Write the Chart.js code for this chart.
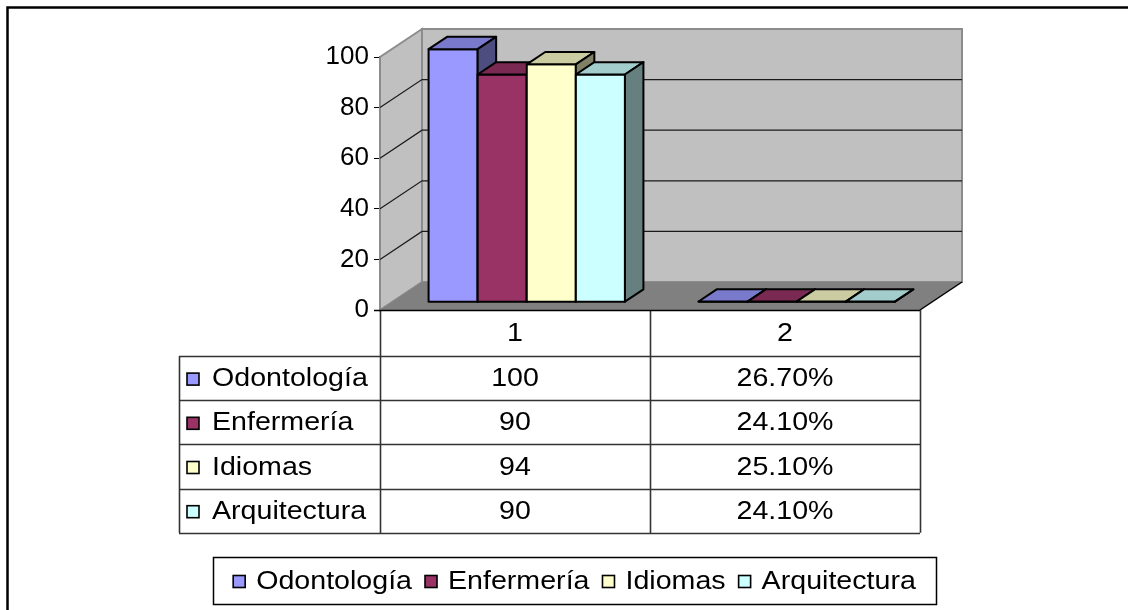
<!DOCTYPE html>
<html>
<head>
<meta charset="utf-8">
<script src="https://cdn.jsdelivr.net/npm/chart.js@4.4.1/dist/chart.umd.min.js"></script>
<style>
  body { margin: 0; background: #fff; }
  #wrap { width: 1128px; height: 610px; position: relative; }
</style>
</head>
<body>
<div id="wrap"><canvas id="chart"></canvas></div>
<script>
// data
const categories = ["1", "2"];
const seriesNames = ["Odontología", "Enfermería", "Idiomas", "Arquitectura"];
const odontologia = [100, 0.267];
const enfermeria = [90, 0.241];
const idiomas = [94, 0.251];
const arquitectura = [90, 0.241];
const tableRows = [
    ["100", "26.70%"],
    ["90", "24.10%"],
    ["94", "25.10%"],
    ["90", "24.10%"]
];
const yTicks = [0, 20, 40, 60, 80, 100];

// colours (front / top / side of each box)
const frontColors = ["#9999ff", "#993366", "#ffffcc", "#ccffff"];
const topColors = ["#7a7acc", "#7a2952", "#cccca3", "#a3cccc"];
const sideColors = ["#4d4d80", "#4d1a33", "#808066", "#668080"];

const FONT = "'Liberation Sans', Arial, sans-serif";
const depthX = 42, depthY = -28;   // wall depth
const barFront = 0.28, barDepth = 0.44;
const stretch = 1.1;               // the original text is a bit wide

function poly(ctx, pts, fill, stroke, lw) {
    ctx.beginPath();
    ctx.moveTo(pts[0][0], pts[0][1]);
    for (let i = 1; i < pts.length; i++) ctx.lineTo(pts[i][0], pts[i][1]);
    ctx.closePath();
    if (fill) { ctx.fillStyle = fill; ctx.fill(); }
    if (stroke) { ctx.strokeStyle = stroke; ctx.lineWidth = lw || 1; ctx.stroke(); }
}

function wideText(ctx, text, x, y, align) {
    const w = ctx.measureText(text).width * stretch;
    let left = x;
    if (align === "center") left = x - w / 2;
    ctx.save();
    ctx.textAlign = "left";
    ctx.translate(left, y);
    ctx.scale(stretch, 1);
    ctx.fillText(text, 0, 0);
    ctx.restore();
    return w;
}

function box(ctx, x, y, color) {
    ctx.fillStyle = color;
    ctx.fillRect(x, y, 12, 12);
    ctx.strokeStyle = "#000";
    ctx.lineWidth = 1.6;
    ctx.strokeRect(x, y, 12, 12);
}

// frame + walls + floor behind the bars, boxes, table, legend
const walls = {
    id: "walls",
    beforeDraw(chart) {
        const ctx = chart.ctx;
        ctx.save();
        ctx.fillStyle = "#fff";
        ctx.fillRect(0, 0, chart.width, chart.height);
        ctx.strokeStyle = "#000";
        ctx.lineWidth = 2.5;
        ctx.strokeRect(7.5, 7.5, chart.width + 20, chart.height + 20);
        ctx.restore();
    },
    beforeDatasetsDraw(chart) {
        const ctx = chart.ctx;
        const a = chart.chartArea;
        const y = chart.scales.y;
        const L = a.left, R = a.right, T = a.top, B = a.bottom;
        ctx.save();
        ctx.lineJoin = "miter";
        // back wall
        poly(ctx, [[L + depthX, T + depthY], [R + depthX, T + depthY], [R + depthX, B + depthY], [L + depthX, B + depthY]], "#c0c0c0", "#8c8c8c", 2);
        // left wall
        poly(ctx, [[L, B], [L, T], [L + depthX, T + depthY], [L + depthX, B + depthY]], "#c0c0c0", "#8c8c8c", 2);
        // floor
        poly(ctx, [[L, B], [R, B], [R + depthX, B + depthY], [L + depthX, B + depthY]], "#808080", null);
        ctx.strokeStyle = "#000";
        ctx.lineWidth = 1.5;
        ctx.beginPath();
        ctx.moveTo(R, B);
        ctx.lineTo(R + depthX, B + depthY);
        ctx.stroke();
        // gridlines
        ctx.strokeStyle = "#1a1a1a";
        ctx.lineWidth = 1.2;
        yTicks.forEach(v => {
            if (v === 0 || v === 100) return;
            const py = y.getPixelForValue(v);
            ctx.beginPath();
            ctx.moveTo(L, py);
            ctx.lineTo(L + depthX, py + depthY);
            ctx.lineTo(R + depthX, py + depthY);
            ctx.stroke();
        });
        ctx.restore();
    },
    afterDatasetsDraw(chart) {
        const ctx = chart.ctx;
        const fx = depthX * barFront, fy = depthY * barFront;
        const bx = depthX * barDepth, by = depthY * barDepth;
        ctx.save();
        ctx.lineJoin = "round";
        for (let i = 0; i < categories.length; i++) {
            chart.data.datasets.forEach((ds, j) => {
                const el = chart.getDatasetMeta(j).data[i];
                const x0 = el.x - el.width / 2 + fx, x1 = el.x + el.width / 2 + fx;
                const yt = el.y + fy, yb = el.base + fy;
                poly(ctx, [[x0, yt], [x1, yt], [x1, yb], [x0, yb]], frontColors[j], "#000", 2);
                poly(ctx, [[x0, yt], [x1, yt], [x1 + bx, yt + by], [x0 + bx, yt + by]], topColors[j], "#000", 2);
                poly(ctx, [[x1, yt], [x1 + bx, yt + by], [x1 + bx, yb + by], [x1, yb]], sideColors[j], "#000", 2);
            });
        }
        ctx.restore();
    },
    afterDraw(chart) {
        const ctx = chart.ctx;
        const a = chart.chartArea;
        const xs = chart.scales.x;
        const colW = (a.right - a.left) / categories.length;
        const headTop = a.bottom, headH = 46, rowH = 44.2;
        const labelLeft = 179;
        const rowsTop = headTop + headH;
        const tableBottom = rowsTop + rowH * seriesNames.length;
        ctx.save();
        // table grid
        ctx.strokeStyle = "#333";
        ctx.lineWidth = 1.6;
        ctx.beginPath();
        for (let r = 0; r <= seriesNames.length; r++) {
            const ly = Math.round(rowsTop + r * rowH) + 0.5;
            ctx.moveTo(labelLeft, ly);
            ctx.lineTo(a.right, ly);
        }
        ctx.moveTo(labelLeft + 0.5, rowsTop);
        ctx.lineTo(labelLeft + 0.5, tableBottom);
        for (let c = 0; c <= categories.length; c++) {
            const lx = Math.round(a.left + c * colW) + 0.5;
            ctx.moveTo(lx, headTop);
            ctx.lineTo(lx, tableBottom);
        }
        ctx.stroke();
        ctx.strokeStyle = "#000";
        ctx.beginPath();
        ctx.moveTo(a.left - 6, headTop + 0.5);
        ctx.lineTo(a.right, headTop + 0.5);
        ctx.stroke();

        ctx.font = "26px " + FONT;
        ctx.fillStyle = "#000";
        ctx.textBaseline = "middle";
        categories.forEach((c, i) => {
            wideText(ctx, c, xs.getPixelForValue(i), headTop + headH / 2 + 1, "center");
        });
        seriesNames.forEach((name, r) => {
            const cy = rowsTop + r * rowH + rowH / 2 + 1;
            box(ctx, 187, cy - 6, frontColors[r]);
            ctx.fillStyle = "#000";
            wideText(ctx, name, 212, cy, "left");
            tableRows[r].forEach((t, i) => wideText(ctx, t, xs.getPixelForValue(i), cy, "center"));
        });

        // legend box
        const lg = { left: 213, top: 557, right: 936, bottom: 604 };
        ctx.strokeStyle = "#000";
        ctx.lineWidth = 1.5;
        ctx.strokeRect(lg.left + 0.5, lg.top + 0.5, lg.right - lg.left, lg.bottom - lg.top);
        const sq = 12, gap = 11, itemGap = 13;
        const widths = seriesNames.map(n => ctx.measureText(n).width * stretch);
        let total = itemGap * (seriesNames.length - 1);
        widths.forEach(w => total += sq + gap + w);
        let x = (lg.left + lg.right) / 2 - total / 2;
        const ly = (lg.top + lg.bottom) / 2 + 1;
        seriesNames.forEach((n, i) => {
            box(ctx, x, ly - 6, frontColors[i]);
            ctx.fillStyle = "#000";
            wideText(ctx, n, x + sq + gap, ly, "left");
            x += sq + gap + widths[i] + itemGap;
        });
        ctx.restore();
    }
};

const seriesValues = [odontologia, enfermeria, idiomas, arquitectura];

new Chart(document.getElementById("chart"), {
    type: "bar",
    data: {
        labels: categories,
        datasets: seriesNames.map((name, i) => ({
            label: name,
            data: seriesValues[i],
            backgroundColor: "rgba(0,0,0,0)",
            borderWidth: 0,
            categoryPercentage: 4 / 5.5,
            barPercentage: 1
        }))
    },
    options: {
        responsive: true,
        maintainAspectRatio: false,
        animation: false,
        layout: { padding: { left: 320, right: 208, top: 57, bottom: 300 } },
        plugins: {
            legend: { display: false },
            tooltip: { enabled: false }
        },
        scales: {
            x: { display: false },
            y: {
                min: 0,
                max: 100,
                afterFit: scale => { scale.width = 60; },
                afterBuildTicks: scale => { scale.ticks = yTicks.map(v => ({ value: v })); },
                grid: { drawOnChartArea: false, drawTicks: true, tickLength: 6, color: "#000" },
                border: { display: true, color: "#000", width: 1.5 },
                ticks: { color: "#000", padding: 5, font: { family: FONT, size: 26 } }
            }
        }
    },
    plugins: [walls]
});
</script>
</body>
</html>
